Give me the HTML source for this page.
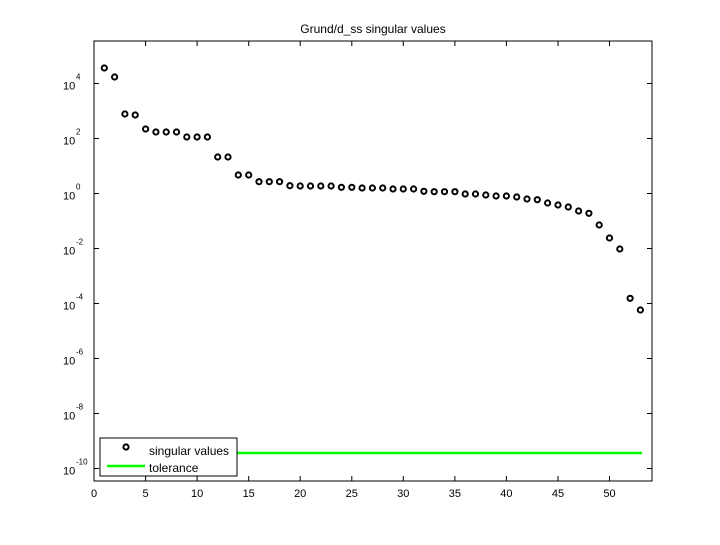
<!DOCTYPE html>
<html><head><style>body{margin:0;background:#fff}</style></head><body>
<svg width="720" height="540" xmlns="http://www.w3.org/2000/svg" font-family="Liberation Sans, sans-serif" font-size="11">
<rect width="720" height="540" fill="#fff"/>
<text x="373" y="33" text-anchor="middle" font-size="12">Grund/d_ss singular values</text>
<g fill="none" stroke="#000" stroke-width="2">
<circle cx="104.3" cy="68" r="2.6"/><circle cx="114.6" cy="77" r="2.6"/><circle cx="124.9" cy="114" r="2.6"/><circle cx="135.2" cy="115" r="2.6"/><circle cx="145.6" cy="129" r="2.6"/><circle cx="155.9" cy="132" r="2.6"/><circle cx="166.2" cy="132" r="2.6"/><circle cx="176.5" cy="132" r="2.6"/><circle cx="186.8" cy="137" r="2.6"/><circle cx="197.1" cy="137" r="2.6"/><circle cx="207.4" cy="137" r="2.6"/><circle cx="217.7" cy="157" r="2.6"/><circle cx="228.0" cy="157" r="2.6"/><circle cx="238.3" cy="175" r="2.6"/><circle cx="248.7" cy="175" r="2.6"/>
<circle cx="259.0" cy="181.7" r="2.6"/><circle cx="269.3" cy="181.7" r="2.6"/><circle cx="279.6" cy="181.7" r="2.6"/><circle cx="289.9" cy="185.7" r="2.6"/><circle cx="300.2" cy="186" r="2.6"/><circle cx="310.5" cy="186" r="2.6"/><circle cx="320.8" cy="186" r="2.6"/><circle cx="331.1" cy="186" r="2.6"/><circle cx="341.4" cy="187.3" r="2.6"/><circle cx="351.8" cy="187.3" r="2.6"/><circle cx="362.1" cy="188" r="2.6"/><circle cx="372.4" cy="188" r="2.6"/><circle cx="382.7" cy="188" r="2.6"/><circle cx="393.0" cy="189" r="2.6"/><circle cx="403.3" cy="189" r="2.6"/><circle cx="413.6" cy="189" r="2.6"/><circle cx="423.9" cy="191.3" r="2.6"/><circle cx="434.2" cy="191.7" r="2.6"/><circle cx="444.5" cy="191.7" r="2.6"/><circle cx="454.9" cy="191.7" r="2.6"/><circle cx="465.2" cy="194" r="2.6"/><circle cx="475.5" cy="194" r="2.6"/><circle cx="485.8" cy="195" r="2.6"/><circle cx="496.1" cy="196" r="2.6"/><circle cx="506.4" cy="196" r="2.6"/><circle cx="516.7" cy="197" r="2.6"/><circle cx="527.0" cy="199" r="2.6"/><circle cx="537.3" cy="199.7" r="2.6"/><circle cx="547.6" cy="203" r="2.6"/><circle cx="558.0" cy="205" r="2.6"/><circle cx="568.3" cy="207" r="2.6"/><circle cx="578.6" cy="211" r="2.6"/><circle cx="588.9" cy="213.3" r="2.6"/><circle cx="599.2" cy="225" r="2.6"/><circle cx="609.5" cy="238" r="2.6"/><circle cx="619.8" cy="249" r="2.6"/><circle cx="630.1" cy="298.3" r="2.6"/><circle cx="640.4" cy="310" r="2.6"/>
</g>
<line x1="100" y1="453" x2="642" y2="453" stroke="#00ff00" stroke-width="2.5"/>
<rect x="94" y="41" width="558" height="440" fill="none" stroke="#000" stroke-width="1"/>
<g stroke="#000">
<line x1="94" y1="481" x2="94" y2="476"/><line x1="145.6" y1="481" x2="145.6" y2="476"/><line x1="197.1" y1="481" x2="197.1" y2="476"/><line x1="248.7" y1="481" x2="248.7" y2="476"/><line x1="300.2" y1="481" x2="300.2" y2="476"/><line x1="351.8" y1="481" x2="351.8" y2="476"/><line x1="403.3" y1="481" x2="403.3" y2="476"/><line x1="454.9" y1="481" x2="454.9" y2="476"/><line x1="506.4" y1="481" x2="506.4" y2="476"/><line x1="558.0" y1="481" x2="558.0" y2="476"/><line x1="609.5" y1="481" x2="609.5" y2="476"/>
<line x1="145.6" y1="41" x2="145.6" y2="46"/><line x1="197.1" y1="41" x2="197.1" y2="46"/><line x1="248.7" y1="41" x2="248.7" y2="46"/><line x1="300.2" y1="41" x2="300.2" y2="46"/><line x1="351.8" y1="41" x2="351.8" y2="46"/><line x1="403.3" y1="41" x2="403.3" y2="46"/><line x1="454.9" y1="41" x2="454.9" y2="46"/><line x1="506.4" y1="41" x2="506.4" y2="46"/><line x1="558.0" y1="41" x2="558.0" y2="46"/><line x1="609.5" y1="41" x2="609.5" y2="46"/>
<line x1="94" y1="83.5" x2="99" y2="83.5"/><line x1="94" y1="138.5" x2="99" y2="138.5"/><line x1="94" y1="193.5" x2="99" y2="193.5"/><line x1="94" y1="248.5" x2="99" y2="248.5"/><line x1="94" y1="303.5" x2="99" y2="303.5"/><line x1="94" y1="358.5" x2="99" y2="358.5"/><line x1="94" y1="413.5" x2="99" y2="413.5"/><line x1="94" y1="468.5" x2="99" y2="468.5"/>
<line x1="652" y1="83.5" x2="647" y2="83.5"/><line x1="652" y1="138.5" x2="647" y2="138.5"/><line x1="652" y1="193.5" x2="647" y2="193.5"/><line x1="652" y1="248.5" x2="647" y2="248.5"/><line x1="652" y1="303.5" x2="647" y2="303.5"/><line x1="652" y1="358.5" x2="647" y2="358.5"/><line x1="652" y1="413.5" x2="647" y2="413.5"/><line x1="652" y1="468.5" x2="647" y2="468.5"/>
</g>
<g text-anchor="middle">
<text x="94" y="497">0</text><text x="145.6" y="497">5</text><text x="197.1" y="497">10</text><text x="248.7" y="497">15</text><text x="300.2" y="497">20</text><text x="351.8" y="497">25</text><text x="403.3" y="497">30</text><text x="454.9" y="497">35</text><text x="506.4" y="497">40</text><text x="558.0" y="497">45</text><text x="609.5" y="497">50</text>
</g>
<g>
<text x="63" y="89.5">10</text><text x="76" y="79.5" font-size="8">4</text>
<text x="63" y="144.5">10</text><text x="76" y="134.5" font-size="8">2</text>
<text x="63" y="199.5">10</text><text x="76" y="189.5" font-size="8">0</text>
<text x="63" y="254.5">10</text><text x="76" y="244.5" font-size="8">-2</text>
<text x="63" y="309.5">10</text><text x="76" y="299.5" font-size="8">-4</text>
<text x="63" y="364.5">10</text><text x="76" y="354.5" font-size="8">-6</text>
<text x="63" y="419.5">10</text><text x="76" y="409.5" font-size="8">-8</text>
<text x="63" y="474.5">10</text><text x="76" y="464.5" font-size="8">-10</text>
</g>
<rect x="100" y="438" width="137" height="38" fill="#fff" stroke="#000"/>
<circle cx="126" cy="447" r="2.6" fill="none" stroke="#000" stroke-width="2"/>
<text x="149" y="455" font-size="12">singular values</text>
<line x1="107" y1="466" x2="145" y2="466" stroke="#00ff00" stroke-width="2.5"/>
<text x="149" y="472" font-size="12">tolerance</text>
</svg>
</body></html>
